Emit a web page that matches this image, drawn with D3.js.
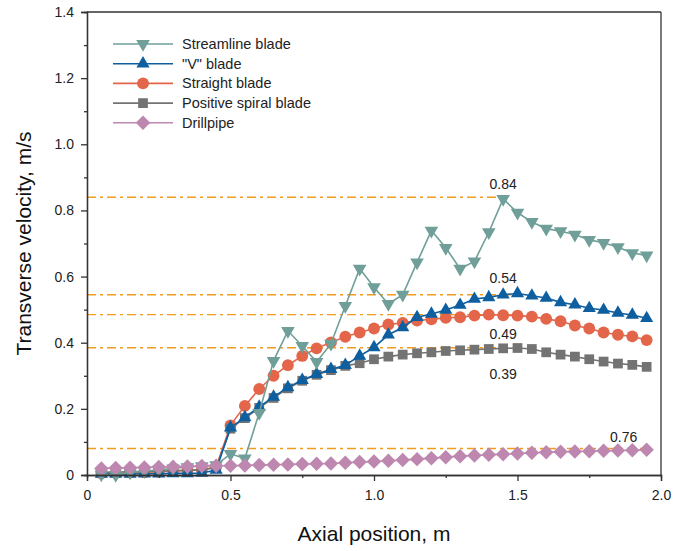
<!DOCTYPE html>
<html>
<head>
<meta charset="utf-8">
<script src="https://cdn.jsdelivr.net/npm/d3@7"></script>
<style>
  body { margin: 0; background: #fff; }
  svg { font-family: "Liberation Sans", Arial, sans-serif; }
</style>
</head>
<body>
<div id="chart"></div>
<script>
// Axial positions (m)
var positions = [0.05, 0.10, 0.15, 0.20, 0.25, 0.30, 0.35, 0.40, 0.45, 0.50,
                 0.55, 0.60, 0.65, 0.70, 0.75, 0.80, 0.85, 0.90, 0.95, 1.00,
                 1.05, 1.10, 1.15, 1.20, 1.25, 1.30, 1.35, 1.40, 1.45, 1.50,
                 1.55, 1.60, 1.65, 1.70, 1.75, 1.80, 1.85, 1.90, 1.95];

// Transverse velocity (m/s) per blade type
var streamline = [0.002, 0.000, 0.008, 0.012, 0.016, 0.020, 0.024, 0.027, 0.030, 0.064,
                  0.050, 0.188, 0.345, 0.436, 0.390, 0.342, 0.397, 0.511, 0.624, 0.568,
                  0.517, 0.545, 0.643, 0.739, 0.687, 0.624, 0.646, 0.734, 0.835, 0.793,
                  0.765, 0.745, 0.737, 0.727, 0.711, 0.702, 0.689, 0.671, 0.664];
var vBlade = [0.003, 0.003, 0.003, 0.004, 0.004, 0.005, 0.005, 0.006, 0.015, 0.143,
              0.174, 0.206, 0.236, 0.265, 0.287, 0.305, 0.320, 0.332, 0.360, 0.386,
              0.424, 0.446, 0.477, 0.487, 0.499, 0.514, 0.532, 0.537, 0.545, 0.549,
              0.542, 0.535, 0.522, 0.515, 0.504, 0.499, 0.490, 0.484, 0.474];
var straight = [0.005, 0.006, 0.007, 0.008, 0.010, 0.012, 0.014, 0.016, 0.025, 0.150,
                0.209, 0.260, 0.300, 0.332, 0.360, 0.383, 0.401, 0.418, 0.431, 0.443,
                0.455, 0.460, 0.467, 0.471, 0.475, 0.477, 0.482, 0.485, 0.483, 0.482,
                0.479, 0.472, 0.465, 0.452, 0.443, 0.431, 0.424, 0.419, 0.408];
var spiral = [0.008, 0.009, 0.010, 0.011, 0.012, 0.013, 0.014, 0.016, 0.022, 0.140,
              0.172, 0.203, 0.233, 0.262, 0.285, 0.303, 0.317, 0.330, 0.338, 0.350,
              0.358, 0.364, 0.368, 0.371, 0.375, 0.377, 0.379, 0.381, 0.383, 0.384,
              0.381, 0.371, 0.364, 0.358, 0.350, 0.343, 0.337, 0.333, 0.327];
var drillpipe = [0.020, 0.021, 0.022, 0.023, 0.024, 0.025, 0.026, 0.027, 0.028, 0.028,
                 0.029, 0.030, 0.031, 0.032, 0.033, 0.034, 0.035, 0.037, 0.039, 0.041,
                 0.043, 0.045, 0.048, 0.051, 0.054, 0.057, 0.059, 0.061, 0.063, 0.065,
                 0.067, 0.069, 0.070, 0.071, 0.072, 0.073, 0.074, 0.075, 0.076];

// Peak reference lines: level and where they end
var refLevels = [0.84, 0.545, 0.485, 0.385, 0.08];
var refEnds = [1.43, 1.48, 1.48, 1.445, 1.94];

// Peak annotations
var noteTexts = ["0.84", "0.54", "0.49", "0.39", "0.76"];
var noteX = [1.45, 1.45, 1.45, 1.45, 1.87];
var noteY = [0.88, 0.594, 0.427, 0.306, 0.115];

var xTicks = [0, 0.5, 1.0, 1.5, 2.0];
var xMinor = [0.25, 0.75, 1.25, 1.75];
var yTicks = [0, 0.2, 0.4, 0.6, 0.8, 1.0, 1.2, 1.4];
var yMinor = [0.1, 0.3, 0.5, 0.7, 0.9, 1.1, 1.3];

var series = [
    { name: "Streamline blade", values: streamline, color: "#6f9f98", symbol: d3.symbolTriangle, size: 80, rotate: 180 },
    { name: "\"V\" blade", values: vBlade, color: "#0e5fa0", symbol: d3.symbolTriangle, size: 75, rotate: 0 },
    { name: "Straight blade", values: straight, color: "#e3654a", symbol: d3.symbolCircle, size: 110, rotate: 0 },
    { name: "Positive spiral blade", values: spiral, color: "#737373", symbol: d3.symbolSquare, size: 95, rotate: 0 },
    { name: "Drillpipe", values: drillpipe, color: "#bd87b0", symbol: d3.symbolSquare, size: 105, rotate: 45 }
];
// drawing order (later on top)
var drawOrder = [2, 3, 1, 0, 4];

var W = 686, H = 551;
var margin = { top: 12, right: 25, bottom: 76, left: 87 };
var width = W - margin.left - margin.right,
    height = H - margin.top - margin.bottom;

var svg = d3.select("#chart").append("svg")
    .attr("width", W).attr("height", H);
var g = svg.append("g")
    .attr("transform", "translate(" + margin.left + "," + margin.top + ")");

var x = d3.scaleLinear().domain([0, 2]).range([0, width]);
var y = d3.scaleLinear().domain([0, 1.4]).range([height, 0]);

var fmt = function(d) { return d === 0 ? "0" : d3.format(".1f")(d); };

// reference lines
g.selectAll(".ref").data(refLevels).enter().append("line")
    .attr("x1", x(0)).attr("x2", function(d, i) { return x(refEnds[i]); })
    .attr("y1", function(d) { return y(d); }).attr("y2", function(d) { return y(d); })
    .attr("stroke", "#f29b1c").attr("stroke-width", 1.4)
    .attr("stroke-dasharray", "9,4,3,4");

// series lines and markers
drawOrder.forEach(function(si) {
    var s = series[si];
    var pts = positions.map(function(p, i) { return [p, s.values[i]]; });
    g.append("path")
        .datum(pts)
        .attr("fill", "none")
        .attr("stroke", s.color)
        .attr("stroke-width", 1.6)
        .attr("d", d3.line().x(function(d) { return x(d[0]); }).y(function(d) { return y(d[1]); }));
    g.selectAll(null).data(pts).enter().append("path")
        .attr("d", d3.symbol().type(s.symbol).size(s.size))
        .attr("transform", function(d) {
            return "translate(" + x(d[0]) + "," + y(d[1]) + ") rotate(" + s.rotate + ")";
        })
        .attr("fill", s.color);
});

// axes
var xAxis = g.append("g")
    .attr("transform", "translate(0," + height + ")")
    .call(d3.axisBottom(x).tickValues(xTicks).tickFormat(fmt).tickSizeOuter(0).tickSize(6).tickPadding(9));
g.append("g")
    .attr("transform", "translate(0," + height + ")")
    .call(d3.axisBottom(x).tickValues(xMinor).tickFormat("").tickSizeOuter(0).tickSize(3));
var yAxis = g.append("g")
    .call(d3.axisLeft(y).tickValues(yTicks).tickFormat(fmt).tickSizeOuter(0).tickSize(6).tickPadding(7));
g.append("g")
    .call(d3.axisLeft(y).tickValues(yMinor).tickFormat("").tickSizeOuter(0).tickSize(3));

g.selectAll(".domain, .tick line").attr("stroke", "#333").attr("stroke-width", 1.3);
g.selectAll(".tick text").attr("font-size", "14px").attr("fill", "#222")
    .attr("font-family", "'Liberation Sans', Arial, sans-serif");

// top and right frame
g.append("line").attr("x1", 0).attr("x2", width).attr("y1", 0).attr("y2", 0)
    .attr("stroke", "#333").attr("stroke-width", 1.3);
g.append("line").attr("x1", width).attr("x2", width).attr("y1", 0).attr("y2", height)
    .attr("stroke", "#333").attr("stroke-width", 1.3);

// annotations
g.selectAll(".note").data(noteTexts).enter().append("text")
    .attr("x", function(d, i) { return x(noteX[i]); })
    .attr("y", function(d, i) { return y(noteY[i]); })
    .attr("dy", "0.35em")
    .attr("text-anchor", "middle")
    .attr("font-size", "14px")
    .attr("fill", "#222")
    .text(function(d) { return d; });

// axis titles
svg.append("text")
    .attr("x", margin.left + width / 2)
    .attr("y", 534)
    .attr("dy", "0.35em")
    .attr("text-anchor", "middle")
    .attr("font-size", "21px")
    .attr("fill", "#111")
    .text("Axial position, m");
svg.append("text")
    .attr("transform", "translate(24," + (margin.top + height / 2) + ") rotate(-90)")
    .attr("dy", "0.35em")
    .attr("text-anchor", "middle")
    .attr("font-size", "21px")
    .attr("fill", "#111")
    .text("Transverse velocity, m/s");

// legend
var legend = svg.append("g").attr("transform", "translate(113,44)");
series.forEach(function(s, i) {
    var row = legend.append("g").attr("transform", "translate(0," + (i * 19.7) + ")");
    row.append("line").attr("x1", 0).attr("x2", 60).attr("y1", 0).attr("y2", 0)
        .attr("stroke", s.color).attr("stroke-width", 1.6);
    row.append("path")
        .attr("d", d3.symbol().type(s.symbol).size(s.size))
        .attr("transform", "translate(30,0) rotate(" + s.rotate + ")")
        .attr("fill", s.color);
    row.append("text").attr("x", 69).attr("y", 0).attr("dy", "0.35em")
        .attr("font-size", "14.5px").attr("fill", "#222")
        .text(s.name);
});
</script>
</body>
</html>
